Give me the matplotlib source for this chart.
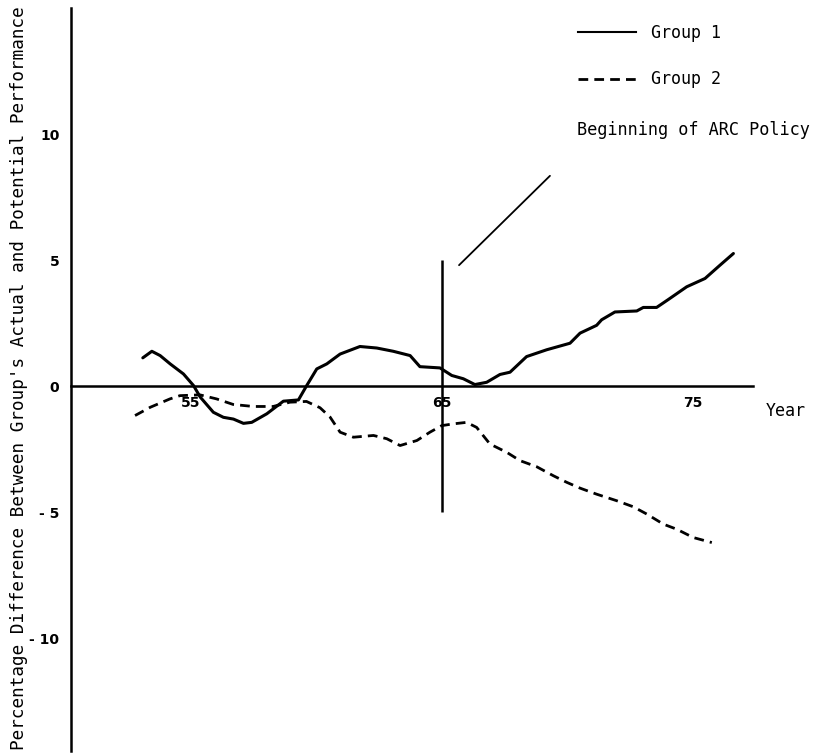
import matplotlib
matplotlib.use('Agg')
import matplotlib.pyplot as plt
from matplotlib.lines import Line2D

# 読み取った値 (年, 実績と潜在能力の差 %)
group1_year = [53.08, 53.44, 53.77, 54.17, 54.70, 55.10, 55.37, 55.89, 56.29, 56.69,
               57.09, 57.42, 58.02, 58.68, 59.28, 59.61, 60.01, 60.41, 60.94, 61.73,
               62.40, 63.06, 63.73, 64.12, 64.92, 65.39, 65.85, 66.31, 66.78, 67.31,
               67.71, 68.37, 69.17, 70.10, 70.50, 71.16, 71.36, 71.89, 72.76, 73.02,
               73.55, 74.01, 74.75, 75.48, 76.08, 76.61]
group1_diff = [1.12, 1.38, 1.21, 0.88, 0.48, 0.02, -0.44, -1.04, -1.24, -1.31,
               -1.48, -1.44, -1.10, -0.60, -0.55, 0.02, 0.68, 0.88, 1.27, 1.57,
               1.51, 1.38, 1.21, 0.77, 0.72, 0.42, 0.29, 0.06, 0.15, 0.46,
               0.55, 1.17, 1.44, 1.70, 2.10, 2.41, 2.63, 2.94, 2.98, 3.12,
               3.12, 3.43, 3.94, 4.27, 4.80, 5.26]

group2_year = [52.77, 53.38, 54.16, 54.56, 55.36, 56.02, 56.68, 57.48, 58.27, 58.94,
               59.60, 60.14, 60.54, 60.94, 61.47, 62.27, 62.80, 63.33, 64.00, 64.52,
               64.99, 65.45, 65.98, 66.38, 66.91, 67.58, 68.11, 68.77, 69.44, 69.97,
               70.50, 71.16, 71.96, 72.62, 73.16, 73.82, 74.35, 75.01, 75.75]
group2_diff = [-1.17, -0.84, -0.51, -0.38, -0.35, -0.51, -0.73, -0.81, -0.81, -0.64,
               -0.61, -0.86, -1.23, -1.83, -2.03, -1.96, -2.09, -2.36, -2.16, -1.83,
               -1.57, -1.50, -1.44, -1.64, -2.30, -2.63, -2.96, -3.20, -3.56, -3.82,
               -4.05, -4.29, -4.55, -4.79, -5.08, -5.48, -5.68, -6.01, -6.21]

x_ticks = [55, 65, 75]
y_ticks = [10, 5, 0, -5, -10]
y_tick_labels = ['10', '5', '0', '- 5', '- 10']

policy_year = 65
series_labels = ['Group 1', 'Group 2']

mono = 'DejaVu Sans Mono'

fig = plt.figure(figsize=(8.21, 7.56), dpi=100)
ax = fig.add_axes([0, 0, 1, 1])
ax.set_xlim(47.39, 80.10)
ax.set_ylim(-14.68, 15.32)

# 軸線: 左は1950年, 下はゼロ
for side in ['top', 'right']:
    ax.spines[side].set_visible(False)
ax.spines['left'].set_position(('data', 50.2))
ax.spines['left'].set_bounds(-14.5, 15.0)
ax.spines['bottom'].set_position(('data', 0))
ax.spines['bottom'].set_bounds(50.2, 77.4)
for side in ['left', 'bottom']:
    ax.spines[side].set_linewidth(1.8)

ax.set_xticks(x_ticks)
ax.set_xticklabels([str(t) for t in x_ticks], fontweight='bold', fontsize=10)
ax.set_yticks(y_ticks)
ax.set_yticklabels(y_tick_labels, fontweight='bold', fontsize=10)
ax.tick_params(axis='x', length=0, pad=7)
ax.tick_params(axis='y', length=0, pad=8)

# 曲線
ax.plot(group1_year, group1_diff, color='black', lw=2.2, solid_capstyle='round')
ax.plot(group2_year, group2_diff, color='black', lw=2.0, dashes=(3.5, 2.2))

# 政策開始の縦線
ax.vlines(policy_year, -5, 5, color='black', lw=1.8)
ax.annotate('', xy=(65.6, 4.72), xytext=(69.38, 8.42),
            arrowprops=dict(arrowstyle='-', color='black', lw=1.3))
ax.text(70.38, 10.16, 'Beginning of ARC Policy', family=mono, fontsize=12.2,
        ha='left', va='center')

ax.text(77.9, -1.0, 'Year', family=mono, fontsize=12, ha='left', va='center')

fig.text(19 / 821, 0.5, "Percentage Difference Between Group's Actual and Potential Performance",
         family=mono, fontsize=12.7, rotation=90, ha='center', va='center')

handles = [Line2D([], [], color='black', lw=1.5),
           Line2D([], [], color='black', lw=2.0, dashes=(3.5, 2.2))]
leg = ax.legend(handles, series_labels, loc='upper left',
                bbox_to_anchor=(578 / 821, 1 - 24 / 756), bbox_transform=fig.transFigure,
                frameon=False, borderpad=0, borderaxespad=0, handlelength=3.5,
                handletextpad=0.9, labelspacing=1.7, prop={'family': mono, 'size': 12})

plt.savefig('out.png', dpi=100)
plt.close()
